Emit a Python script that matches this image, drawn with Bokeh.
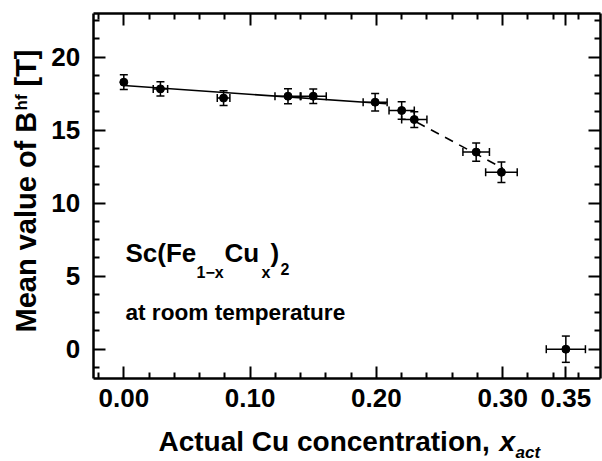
import math
from bokeh.plotting import figure
from bokeh.models import (Range1d, LinearAxis, FixedTicker, Whisker, TeeHead,
                          ColumnDataSource, Label, PrintfTickFormatter)
from bokeh.embed import file_html
from bokeh.resources import INLINE

# ---- data ----
x_act = [0.00, 0.029, 0.079, 0.130, 0.150, 0.199, 0.220, 0.230, 0.279, 0.299, 0.350]
b_hf = [18.29, 17.83, 17.20, 17.33, 17.33, 16.92, 16.35, 15.73, 13.50, 12.12, 0.00]
x_err = [0.0, 0.0057, 0.0050, 0.0103, 0.0103, 0.0095, 0.0100, 0.0100, 0.0105, 0.0125, 0.0155]
b_err = [0.50, 0.49, 0.51, 0.51, 0.50, 0.60, 0.60, 0.54, 0.62, 0.70, 0.90]

fit_solid_x = [0.000, 0.208]
fit_solid_y = [18.06, 16.81]
fit_dash_x = [0.232, 0.300]
fit_dash_y = [15.55, 12.40]

x_ticks = [0.00, 0.10, 0.20, 0.30, 0.35]
x_minor = [-0.02, 0.02, 0.04, 0.06, 0.08, 0.12, 0.14, 0.16, 0.18, 0.22, 0.24,
           0.26, 0.28, 0.32, 0.34, 0.36]
y_ticks = [0, 5, 10, 15, 20]
y_minor = [-1.25, 1.25, 2.5, 3.75, 6.25, 7.5, 8.75, 11.25, 12.5, 13.75,
           16.25, 17.5, 18.75, 21.25, 22.5]

# axis box limits (data units)
X_LO, X_HI = -0.0242, 0.3774
Y_LO, Y_HI = -2.0, 23.0

FONT = "Liberation Sans"
W, H = 602, 461

# the frame spans the whole canvas; the axes are pinned at the box edges
p = figure(width=W, height=H, output_backend="svg", toolbar_location=None,
           x_range=Range1d(-0.09763, 0.37902), y_range=Range1d(-7.692, 23.884),
           min_border=0, x_axis_location=None, y_axis_location=None)
p.outline_line_color = None
p.xgrid.visible = False
p.ygrid.visible = False
p.background_fill_color = "white"
p.border_fill_color = "white"


def style_axis(ax, show_labels):
    ax.axis_line_width = 2.5
    ax.axis_line_color = "black"
    ax.major_tick_line_width = 2
    ax.minor_tick_line_width = 2
    ax.major_tick_in = 12
    ax.major_tick_out = 0
    ax.minor_tick_in = 6
    ax.minor_tick_out = 0
    ax.major_label_text_font = FONT
    ax.major_label_text_font_style = "bold"
    ax.major_label_text_font_size = "26px"
    ax.major_label_text_color = "black" if show_labels else None


xt = FixedTicker(ticks=x_ticks, minor_ticks=x_minor)
yt = FixedTicker(ticks=y_ticks, minor_ticks=y_minor)

xb = LinearAxis(ticker=xt, formatter=PrintfTickFormatter(format="%.2f"),
                fixed_location=Y_LO, bounds=(X_LO, X_HI))
style_axis(xb, True)
xb.major_label_standoff = 11
p.add_layout(xb, "below")

xtop = LinearAxis(ticker=xt, fixed_location=Y_HI, bounds=(X_LO, X_HI))
style_axis(xtop, False)
p.add_layout(xtop, "above")

yl = LinearAxis(ticker=yt, fixed_location=X_LO, bounds=(Y_LO, Y_HI))
style_axis(yl, True)
yl.major_label_standoff = 13
p.add_layout(yl, "left")

yr = LinearAxis(ticker=yt, fixed_location=X_HI, bounds=(Y_LO, Y_HI))
style_axis(yr, False)
p.add_layout(yr, "right")

# fit lines
p.line(fit_solid_x, fit_solid_y, line_color="black", line_width=1.6)
p.line(fit_dash_x, fit_dash_y, line_color="black", line_width=1.6, line_dash="9 7")

# error bars
src = ColumnDataSource(dict(
    x=x_act, y=b_hf,
    yl=[b - e for b, e in zip(b_hf, b_err)],
    yu=[b + e for b, e in zip(b_hf, b_err)],
))
p.add_layout(Whisker(base="x", lower="yl", upper="yu", dimension="height", source=src,
                     line_color="black", line_width=1.5,
                     lower_head=TeeHead(size=8, line_width=1.5, line_color="black"),
                     upper_head=TeeHead(size=8, line_width=1.5, line_color="black")))

xe = [(x, y, e) for x, y, e in zip(x_act, b_hf, x_err) if e > 0]
srcx = ColumnDataSource(dict(
    y=[v[1] for v in xe],
    xl=[v[0] - v[2] for v in xe],
    xu=[v[0] + v[2] for v in xe],
))
p.add_layout(Whisker(base="y", lower="xl", upper="xu", dimension="width", source=srcx,
                     line_color="black", line_width=1.5,
                     lower_head=TeeHead(size=8, line_width=1.5, line_color="black"),
                     upper_head=TeeHead(size=8, line_width=1.5, line_color="black")))

p.scatter(x_act, b_hf, size=8, color="black")


# ---- texts (screen units; frame == canvas, y measured from the bottom) ----
# X, Y: wanted baseline position in canvas pixels from the top-left corner
def lab(X, Y, text, size, italic=False, rotated=False):
    shift = 0.42 * size
    if rotated:
        ax_, ay_, ang = X - shift, Y, math.pi / 2
    else:
        ax_, ay_, ang = X, Y - shift, 0.0
    p.add_layout(Label(x=ax_, y=H - ay_, x_units="screen", y_units="screen",
                       text=text, text_font=FONT, text_font_size=f"{size}px",
                       text_font_style="bold italic" if italic else "bold",
                       text_color="black", text_align="left",
                       text_baseline="alphabetic", angle=ang))


# y axis title
lab(38, 332, "Mean value of B", 29, rotated=True)
lab(28, 110, "hf", 17, rotated=True)
lab(38, 86, "[T]", 29, rotated=True)

# x axis title
lab(158, 453, "Actual Cu concentration,", 28)
lab(499, 453, "x", 28, italic=True)
lab(515, 459, "act", 17, italic=True)

# formula
lab(125, 263, "Sc(Fe", 26)
lab(196, 279, "1\u2212x", 16)
lab(224, 263, "Cu", 26)
lab(261, 279, "x", 16)
lab(270, 263, ")", 26)
lab(280, 275, "2", 16)

lab(125, 321, "at room temperature", 22.6)

open("out.html", "w").write(file_html(p, INLINE))
